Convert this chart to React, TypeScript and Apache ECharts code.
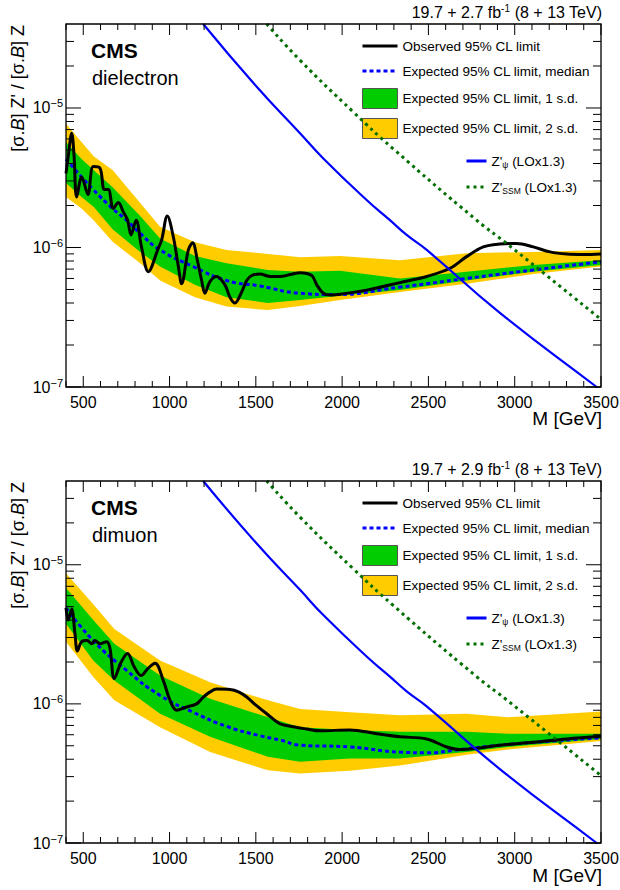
import React, { useEffect, useRef } from "react";
import * as echarts from "echarts";

// ---------------- axis ranges & tick values ----------------
const X_MIN = 400;
const X_MAX = 3500;
const Y_MIN = 1e-7;
const Y_MAX = 4e-5;

const X_MAJOR_TICKS = [500, 1000, 1500, 2000, 2500, 3000, 3500];
const X_MINOR_TICKS = [
  400, 600, 700, 800, 900, 1100, 1200, 1300, 1400, 1600, 1700, 1800, 1900,
  2100, 2200, 2300, 2400, 2600, 2700, 2800, 2900, 3100, 3200, 3300, 3400,
];
const Y_MAJOR_TICKS = [1e-7, 1e-6, 1e-5];
const Y_MINOR_TICKS = [
  2e-7, 3e-7, 4e-7, 5e-7, 6e-7, 7e-7, 8e-7, 9e-7,
  2e-6, 3e-6, 4e-6, 5e-6, 6e-6, 7e-6, 8e-6, 9e-6,
  2e-5, 3e-5,
];

// ---------------- dielectron ----------------
const EE_OBS_MASS = [
  400, 413, 433, 446, 462, 491, 527, 558, 597, 622, 645, 674, 703, 732, 757,
  777, 806, 838, 877, 935, 954, 987, 1022, 1051, 1070, 1109, 1134, 1161, 1186,
  1205, 1234, 1273, 1321, 1350, 1379, 1418, 1447, 1476, 1524, 1582, 1640, 1700,
  1756, 1824, 1853, 1891, 1930, 2000, 2142, 2335, 2490, 2625, 2721, 2818, 2914,
  3011, 3108, 3205, 3301, 3400, 3500,
];
const EE_OBS_LIMIT = [
  3.4e-6, 4.5e-6, 6.6e-6, 4.7e-6, 2.3e-6, 3.2e-6, 2.4e-6, 3.8e-6, 3.7e-6,
  2.6e-6, 2.6e-6, 1.9e-6, 2.1e-6, 1.8e-6, 1.57e-6, 1.23e-6, 1.57e-6, 1.0e-6,
  6.7e-7, 9.9e-7, 1.13e-6, 1.68e-6, 1.19e-6, 7.3e-7, 5.5e-7, 9.6e-7, 1.08e-6,
  8.1e-7, 5.8e-7, 4.7e-7, 5.7e-7, 6.2e-7, 5.4e-7, 4.4e-7, 4.0e-7, 4.8e-7,
  5.8e-7, 6.3e-7, 6.45e-7, 6.2e-7, 6.2e-7, 6.4e-7, 6.6e-7, 6.3e-7, 5.4e-7,
  4.7e-7, 4.57e-7, 4.65e-7, 4.95e-7, 5.6e-7, 6.2e-7, 7.1e-7, 8.6e-7, 1.01e-6,
  1.06e-6, 1.07e-6, 1.01e-6, 9.3e-7, 8.97e-7, 8.9e-7, 9.0e-7,
];
const EE_EXP_MASS = [400, 490, 558, 670, 751, 830, 945, 1137, 1330, 1524, 1756, 1950, 2335, 2721, 3108, 3500];
const EE_EXP_MEDIAN = [
  4.3e-6, 3.2e-6, 2.6e-6, 1.9e-6, 1.57e-6, 1.26e-6, 9.6e-7, 7.3e-7, 5.8e-7,
  5.3e-7, 4.7e-7, 4.6e-7, 5.2e-7, 6.0e-7, 6.9e-7, 7.9e-7,
];
const EE_BAND_MASS = [400, 490, 560, 670, 830, 945, 1147, 1330, 1570, 1756, 1988, 2335, 2721, 3108, 3500];
const EE_2SD_HI = [7.7e-6, 5.7e-6, 4.5e-6, 3.6e-6, 2.08e-6, 1.41e-6, 1.09e-6, 9.6e-7, 9.0e-7, 8.5e-7, 8.7e-7, 8.1e-7, 9.1e-7, 9.3e-7, 9.6e-7];
const EE_1SD_HI = [5.7e-6, 4.3e-6, 3.6e-6, 2.7e-6, 1.68e-6, 1.16e-6, 8.7e-7, 7.7e-7, 6.9e-7, 6.7e-7, 6.8e-7, 6.0e-7, 6.7e-7, 7.5e-7, 8.1e-7];
const EE_1SD_LO = [2.9e-6, 2.3e-6, 1.96e-6, 1.35e-6, 9.3e-7, 7.3e-7, 5.4e-7, 4.4e-7, 4.0e-7, 4.2e-7, 4.5e-7, 4.95e-7, 5.8e-7, 6.7e-7, 7.5e-7];
const EE_2SD_LO = [2.3e-6, 1.9e-6, 1.57e-6, 1.1e-6, 7.7e-7, 5.8e-7, 4.4e-7, 3.77e-7, 3.56e-7, 3.8e-7, 4.2e-7, 4.8e-7, 5.5e-7, 6.45e-7, 7.3e-7];

// ---------------- dimuon ----------------
const MM_OBS_MASS = [
  400, 413, 433, 452, 466, 491, 523, 549, 568, 597, 636, 655, 680, 720, 757,
  795, 835, 875, 916, 964, 1003, 1041, 1099, 1157, 1196, 1235, 1273, 1350,
  1400, 1447, 1500, 1563, 1640, 1700, 1794, 1872, 2045, 2200, 2335, 2490, 2606,
  2683, 2780, 2914, 3108, 3301, 3500,
];
const MM_OBS_LIMIT = [
  4.9e-6, 4.0e-6, 4.8e-6, 3.2e-6, 2.4e-6, 2.8e-6, 2.85e-6, 2.7e-6, 2.85e-6,
  2.7e-6, 2.8e-6, 2.5e-6, 1.52e-6, 2.0e-6, 2.3e-6, 1.85e-6, 1.6e-6, 1.8e-6,
  1.96e-6, 1.47e-6, 1.06e-6, 9.0e-7, 9.5e-7, 1.0e-6, 1.12e-6, 1.22e-6, 1.28e-6,
  1.27e-6, 1.22e-6, 1.12e-6, 9.8e-7, 8.5e-7, 7.2e-7, 6.9e-7, 6.6e-7, 6.4e-7,
  6.5e-7, 6.1e-7, 5.8e-7, 5.6e-7, 4.9e-7, 4.7e-7, 4.8e-7, 5.05e-7, 5.3e-7,
  5.6e-7, 5.85e-7,
];
const MM_EXP_MASS = [400, 558, 751, 945, 1137, 1330, 1524, 1640, 1756, 2045, 2335, 2490, 2683, 2914, 3205, 3500];
const MM_EXP_MEDIAN = [
  4.9e-6, 2.85e-6, 1.74e-6, 1.15e-6, 8.7e-7, 6.9e-7, 5.9e-7, 5.5e-7, 5.05e-7,
  4.9e-7, 4.5e-7, 4.45e-7, 4.7e-7, 5.05e-7, 5.4e-7, 5.7e-7,
];
const MM_BAND_MASS = [400, 558, 680, 945, 1235, 1570, 1756, 2045, 2335, 2721, 2960, 3500];
const MM_2SD_HI = [8.7e-6, 5.2e-6, 3.46e-6, 2.05e-6, 1.43e-6, 1.06e-6, 9.2e-7, 8.7e-7, 8.3e-7, 8.5e-7, 8.0e-7, 8.8e-7];
const MM_1SD_HI = [6.8e-6, 4.0e-6, 2.7e-6, 1.6e-6, 1.09e-6, 8.0e-7, 6.8e-7, 6.5e-7, 6.3e-7, 6.3e-7, 6.1e-7, 6.1e-7];
const MM_1SD_LO = [3.76e-6, 2.05e-6, 1.47e-6, 8.5e-7, 5.8e-7, 4.16e-7, 3.83e-7, 4.05e-7, 4.05e-7, 4.5e-7, 4.9e-7, 5.6e-7];
const MM_2SD_LO = [2.8e-6, 1.56e-6, 1.06e-6, 6.8e-7, 4.5e-7, 3.33e-7, 3.16e-7, 3.3e-7, 3.6e-7, 4.3e-7, 4.7e-7, 5.4e-7];

// ---------------- theory curves (same in both panels) ----------------
const PSI_MASS = [1195, 1505, 1756, 1891, 2142, 2277, 2374, 2490, 2914, 3475, 3500];
const PSI_XS = [4.0e-5, 1.42e-5, 6.6e-6, 4.35e-6, 2.19e-6, 1.57e-6, 1.23e-6, 9.6e-7, 3.4e-7, 1.0e-7, 9.45e-8];
const SSM_MASS = [1563, 1756, 2063, 2296, 2779, 2953, 3500];
const SSM_XS = [4.0e-5, 2.2e-5, 9.4e-6, 5.1e-6, 1.57e-6, 1.07e-6, 3.05e-7];

// ---------------- labels ----------------
const NAME_OBS = "Observed 95% CL limit";
const NAME_EXP = "Expected 95% CL limit, median";
const NAME_1SD = "Expected 95% CL limit, 1 s.d.";
const NAME_2SD = "Expected 95% CL limit, 2 s.d.";
const NAME_PSI = "Z'ψ (LOx1.3)";
const NAME_SSM = "Z'SSM (LOx1.3)";
const CHANNELS = ["dielectron", "dimuon"];
const LUMI = ["2.7", "2.9"];

const FONT = "'Liberation Sans', Arial, Helvetica, sans-serif";
const C_YELLOW = "#ffcc00";
const C_GREEN = "#00cc00";
const C_BLUE = "#0000ff";
const C_DGREEN = "#006e00";
const NO_SYMBOL = { color: "rgba(0,0,0,0)", borderWidth: 0, opacity: 0 };

function zip(xs: number[], ys: number[]) {
  return xs.map((x, i) => [x, ys[i]]);
}

function bandRenderer(mass: number[], hi: number[], lo: number[], color: string) {
  return (_params: any, api: any) => {
    const pts: number[][] = [];
    for (let i = 0; i < mass.length; i++) pts.push(api.coord([mass[i], hi[i]]));
    for (let i = mass.length - 1; i >= 0; i--) pts.push(api.coord([mass[i], lo[i]]));
    return { type: "polygon", shape: { points: pts }, style: { fill: color } };
  };
}

function frameRenderer(params: any, api: any) {
  const cs = params.coordSys;
  const left = cs.x;
  const right = cs.x + cs.width;
  const top = cs.y;
  const bottom = cs.y + cs.height;
  const ch: any[] = [];
  const st = { stroke: "#000", lineWidth: 1 };
  const vl = (x: number, y1: number, y2: number) =>
    ch.push({ type: "line", shape: { x1: x, y1, x2: x, y2 }, style: st });
  const hl = (y: number, x1: number, x2: number) =>
    ch.push({ type: "line", shape: { x1, y1: y, x2, y2: y }, style: st });
  X_MAJOR_TICKS.forEach((v) => {
    const x = api.coord([v, Y_MIN])[0];
    vl(x, bottom, bottom - 11);
    vl(x, top, top + 11);
  });
  X_MINOR_TICKS.forEach((v) => {
    const x = api.coord([v, Y_MIN])[0];
    vl(x, bottom, bottom - 6);
    vl(x, top, top + 6);
  });
  Y_MAJOR_TICKS.forEach((v) => {
    const y = api.coord([X_MIN, v])[1];
    hl(y, left, left + 15);
    hl(y, right, right - 15);
  });
  Y_MINOR_TICKS.forEach((v) => {
    const y = api.coord([X_MIN, v])[1];
    hl(y, left, left + 8);
    hl(y, right, right - 8);
  });
  ch.push({
    type: "rect",
    shape: { x: left, y: top, width: cs.width, height: cs.height },
    style: { fill: "none", stroke: "#000", lineWidth: 1.3 },
  });
  return { type: "group", children: ch };
}

function panelSeries(
  idx: number,
  obsM: number[], obsV: number[],
  expM: number[], expV: number[],
  bandM: number[], h2: number[], h1: number[], l1: number[], l2: number[]
) {
  const ax = { xAxisIndex: idx, yAxisIndex: idx };
  return [
    {
      ...ax, type: "custom", name: NAME_2SD, data: [[1000, 1e-6]], silent: true, z: 1,
      itemStyle: { color: C_YELLOW }, renderItem: bandRenderer(bandM, h2, l2, C_YELLOW),
    },
    {
      ...ax, type: "custom", name: NAME_1SD, data: [[1000, 1e-6]], silent: true, z: 1,
      itemStyle: { color: C_GREEN }, renderItem: bandRenderer(bandM, h1, l1, C_GREEN),
    },
    {
      ...ax, type: "line", name: NAME_EXP, data: zip(expM, expV), symbol: "none", smooth: true, z: 3,
      lineStyle: { color: C_BLUE, width: 3, type: [4, 3] }, itemStyle: { color: C_BLUE },
    },
    {
      ...ax, type: "line", name: NAME_OBS, data: zip(obsM, obsV), symbol: "none", smooth: 0.35, z: 4,
      lineStyle: { color: "#000", width: 3 }, itemStyle: { color: "#000" },
    },
    {
      ...ax, type: "line", name: NAME_PSI, data: zip(PSI_MASS, PSI_XS), symbol: "none", smooth: true, z: 5,
      lineStyle: { color: C_BLUE, width: 2.2 }, itemStyle: { color: C_BLUE },
    },
    {
      ...ax, type: "line", name: NAME_SSM, data: zip(SSM_MASS, SSM_XS), symbol: "none", smooth: true, z: 5,
      lineStyle: { color: C_DGREEN, width: 3, type: [3, 4] }, itemStyle: { color: C_DGREEN },
    },
    {
      ...ax, type: "custom", name: "frame" + idx, data: [[1000, 1e-6]], silent: true, z: 6, clip: false,
      renderItem: frameRenderer,
    },
  ];
}

function yLabel(v: number) {
  const l = Math.log10(v);
  const e = Math.round(l);
  if (Math.abs(l - e) > 0.01) return "";
  return `{b|10}{s|\u2212${-e}}`;
}

function buildOption() {
  const grids = [0, 1].map((p) => ({
    left: 66, top: 24 + p * 457, width: 535, height: 363 - p,
    show: false, containLabel: false, outerBoundsMode: "none",
  }));
  const xAxes = [0, 1].map((p) => ({
    type: "value", gridIndex: p, min: X_MIN, max: X_MAX,
    axisLine: { show: false }, axisTick: { show: false }, splitLine: { show: false },
    axisLabel: {
      margin: 7, color: "#000", fontSize: 16, fontFamily: FONT,
      formatter: (v: number) => (v % 500 === 0 ? String(v) : ""),
    },
  }));
  const yAxes = [0, 1].map((p) => ({
    type: "log", logBase: 10, gridIndex: p, min: Y_MIN, max: Y_MAX,
    axisLine: { show: false }, axisTick: { show: false }, splitLine: { show: false },
    minorTick: { show: false }, minorSplitLine: { show: false },
    axisLabel: {
      margin: 3, color: "#000", fontFamily: FONT, formatter: yLabel,
      rich: {
        b: { fontSize: 16, fontFamily: FONT, color: "#000" },
        s: { fontSize: 11, fontFamily: FONT, color: "#000", padding: [0, 0, 9, 0] },
      },
    },
  }));

  const legends: any[] = [];
  [0, 1].forEach((p) => {
    legends.push({
      orient: "vertical", left: 355, top: 32 + p * 457, padding: [6, 6, 3, 6],
      itemGap: 9, itemWidth: 35, itemHeight: 20, backgroundColor: "#fff",
      selectedMode: false, lineStyle: { width: 3 },
      textStyle: { fontSize: 13.5, color: "#000", fontFamily: FONT },
      data: [
        { name: NAME_OBS, itemStyle: NO_SYMBOL },
        { name: NAME_EXP, itemStyle: NO_SYMBOL },
        { name: NAME_1SD, icon: "rect", itemStyle: { color: C_GREEN, borderColor: "#555", borderWidth: 1 } },
        { name: NAME_2SD, icon: "rect", itemStyle: { color: C_YELLOW, borderColor: "#555", borderWidth: 1 } },
      ],
    });
    legends.push({
      orient: "vertical", left: 465, top: 153 + p * 457, padding: 0,
      itemGap: 10, itemWidth: 20, itemHeight: 20, selectedMode: false,
      lineStyle: { width: 3 },
      textStyle: {
        fontSize: 13.5, color: "#000", fontFamily: FONT,
        rich: {
          n: { fontSize: 13.5, color: "#000", fontFamily: FONT },
          s: { fontSize: 8.5, color: "#000", fontFamily: FONT, padding: [7, 0, 0, 0] },
        },
      },
      formatter: (name: string) =>
        name === NAME_PSI ? "{n|Z'}{s|ψ}{n| (LOx1.3)}" : "{n|Z'}{s|SSM}{n| (LOx1.3)}",
      data: [
        { name: NAME_PSI, itemStyle: NO_SYMBOL },
        { name: NAME_SSM, itemStyle: NO_SYMBOL },
      ],
    });
  });

  const graphic: any[] = [];
  [0, 1].forEach((p) => {
    const dy = p * 457;
    graphic.push(
      {
        type: "text", x: 91, y: 50 + dy, silent: true,
        style: { text: "CMS", fill: "#000", fontSize: 21, fontWeight: "bold", fontFamily: FONT, verticalAlign: "middle" },
      },
      {
        type: "text", x: 92, y: 78 + dy, silent: true,
        style: { text: CHANNELS[p], fill: "#000", fontSize: 20, fontFamily: FONT, verticalAlign: "middle" },
      },
      {
        type: "text", x: 602, y: 12 + dy, silent: true,
        style: {
          text: `{a|19.7 + ${LUMI[p]} fb}{s|-1}{a| (8 + 13 TeV)}`,
          align: "right", verticalAlign: "middle",
          rich: {
            a: { fontSize: 16, fontFamily: FONT, fill: "#000" },
            s: { fontSize: 10, fontFamily: FONT, fill: "#000", padding: [0, 0, 8, 0] },
          },
        },
      },
      {
        type: "text", x: 18, y: 25 + dy, rotation: Math.PI / 2, silent: true,
        style: {
          text: "{r|[σ.}{i|B}{r|] Z' / [σ.}{i|B}{r|] Z}",
          align: "right", verticalAlign: "middle",
          rich: {
            r: { fontSize: 18, fontFamily: FONT, fill: "#000" },
            i: { fontSize: 18, fontFamily: FONT, fontStyle: "italic", fill: "#000" },
          },
        },
      },
      {
        type: "text", x: 602, y: 418 + dy, silent: true,
        style: { text: "M [GeV]", align: "right", verticalAlign: "middle", fontSize: 19, fontFamily: FONT, fill: "#000" },
      }
    );
  });

  return {
    animation: false,
    backgroundColor: "#fff",
    grid: grids,
    xAxis: xAxes,
    yAxis: yAxes,
    legend: legends,
    graphic,
    series: [
      ...panelSeries(0, EE_OBS_MASS, EE_OBS_LIMIT, EE_EXP_MASS, EE_EXP_MEDIAN,
        EE_BAND_MASS, EE_2SD_HI, EE_1SD_HI, EE_1SD_LO, EE_2SD_LO),
      ...panelSeries(1, MM_OBS_MASS, MM_OBS_LIMIT, MM_EXP_MASS, MM_EXP_MEDIAN,
        MM_BAND_MASS, MM_2SD_HI, MM_1SD_HI, MM_1SD_LO, MM_2SD_LO),
    ],
  };
}

export default function App() {
  const ref = useRef<HTMLDivElement>(null);
  useEffect(() => {
    if (!ref.current) return;
    const chart = echarts.init(ref.current, undefined, { renderer: "svg" });
    chart.setOption(buildOption() as any);
    return () => chart.dispose();
  }, []);
  return (
    <div
      ref={ref}
      style={{ position: "fixed", left: 0, top: 0, width: 620, height: 890, background: "#fff" }}
    />
  );
}
